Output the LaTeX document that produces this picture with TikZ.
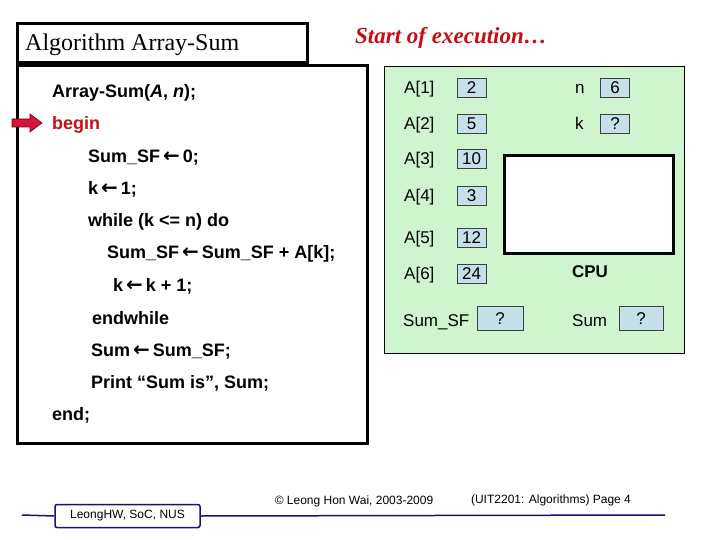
\documentclass[tikz,border=0pt]{standalone}
\usepackage{fontspec}
\setmainfont{Liberation Serif}
\setsansfont{Liberation Sans}
\newfontfamily\symfont{DejaVu Sans}
\usetikzlibrary{positioning}

\definecolor{panelgreen}{RGB}{206,245,206}
\definecolor{cellblue}{RGB}{198,224,234}
\definecolor{startred}{RGB}{196,14,24}
\definecolor{pointred}{RGB}{214,20,58}
\definecolor{footnavy}{RGB}{20,20,120}

\newcommand{\asgn}{\,{\symfont\bfseries\fontsize{20}{20}\selectfont ←}\,}

\tikzset{
  codeline/.style={anchor=west,inner sep=0pt,text height=13pt,text depth=0pt,font=\sffamily\bfseries\fontsize{18}{20}\selectfont},
  memlabel/.style={anchor=west,inner sep=0pt,text height=12pt,text depth=0pt,font=\sffamily\fontsize{17}{20}\selectfont},
  cell/.style={draw=black!75,fill=cellblue,line width=0.7pt,minimum width=29pt,minimum height=19pt,inner sep=0pt,text height=12pt,text depth=0pt,font=\sffamily\fontsize{17}{20}\selectfont},
  footnote/.style={font=\sffamily\fontsize{12}{14}\selectfont,inner sep=0pt},
}

\begin{document}
\begin{tikzpicture}[x=1pt,y=-1pt]
\useasboundingbox (0,0) rectangle (720,540);
% title and code boxes
\draw[line width=3pt] (17,24) rectangle (307,63);
\node[anchor=west,inner sep=0pt,font=\fontsize{24}{26}\selectfont] (title) at (25,45) {Algorithm Array-Sum};
\node[anchor=west,inner sep=0pt,text=startred,font=\bfseries\itshape\fontsize{23}{26}\selectfont] (start) at (355,38) {Start of execution…};
\draw[line width=3pt,fill=white] (17,66) rectangle (367,443);
% the algorithm
\node[codeline] (l1) at (52,91) {Array-Sum(\textit{A}, \textit{n});};
\node[codeline,text=startred] (l2) at (52,123) {begin};
\node[codeline] (l3) at (88,156) {Sum\_SF\asgn 0;};
\node[codeline] (l4) at (88,188) {k\asgn 1;};
\node[codeline] (l5) at (88,220) {while (k <= n) do};
\node[codeline] (l6) at (107,252) {Sum\_SF\asgn Sum\_SF + A[k];};
\node[codeline] (l7) at (113,285) {k\asgn k + 1;};
\node[codeline] (l8) at (92,318) {endwhile};
\node[codeline] (l9) at (91,350) {Sum\asgn Sum\_SF;};
\node[codeline] (l10) at (91,382) {Print “Sum is”, Sum;};
\node[codeline] (l11) at (52,414) {end;};
% pointer to the current line
\draw[draw=red!45!black,fill=pointred,line width=0.6pt] (12,119) -- (30,119) -- (30,114) -- (42,123) -- (30,132) -- (30,127) -- (12,127) -- cycle;
% memory panel
\draw[fill=panelgreen,line width=0.8pt] (384,66) rectangle (684,353);
\foreach \i/\val/\yy in {1/2/87.5,2/5/124,3/10/159,4/3/195.5,5/12/237.5,6/24/273.5}{
  \node[memlabel] (lab\i) at (404,\yy) {A[\i]};
  \node[cell] (cell\i) at (471.5,\yy) {\val};
}
\node[memlabel] (nlab) at (575,87.5) {n};
\node[cell] (ncell) at (615,87.5) {6};
\node[memlabel] (klab) at (575,124) {k};
\node[cell] (kcell) at (615,124) {?};
\node[memlabel] (sflab) at (403,320) {Sum\_SF};
\node[cell,minimum width=46pt,minimum height=24pt] (sfcell) at (500,318) {?};
\node[memlabel] (sumlab) at (572,320) {Sum};
\node[cell,minimum width=44pt,minimum height=24pt] (sumcell) at (641,318) {?};
% cpu
\draw[line width=3pt,fill=white] (504,156) rectangle (673,253);
\node[inner sep=0pt,font=\sffamily\bfseries\fontsize{17}{20}\selectfont] (cpu) at (590,272) {CPU};
% footer
\node[draw=footnavy,line width=1.5pt,rounded corners=2pt,minimum width=145pt,minimum height=23pt,footnote] (org) at (127.5,516) {LeongHW, SoC, NUS};
\draw[footnavy,line width=1.5pt] (22,515) -- (org.west);
\draw[footnavy,line width=1.5pt] (org.east) -- (665,515);
\node[footnote] (copy) at (354,501) {© Leong Hon Wai, 2003-2009};
\node[footnote] (page) at (551,500) {(UIT2201: Algorithms) Page 4};
\end{tikzpicture}
\end{document}
